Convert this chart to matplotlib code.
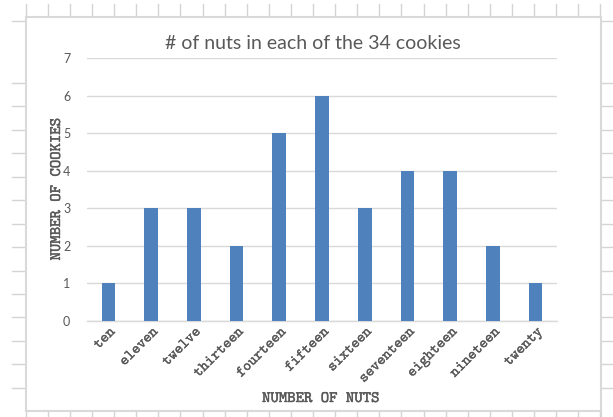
import matplotlib
matplotlib.use("Agg")
import matplotlib.pyplot as plt
import matplotlib.patheffects as pe
from matplotlib.lines import Line2D
from matplotlib.patches import Rectangle

# Data
categories = ["ten", "eleven", "twelve", "thirteen", "fourteen", "fifteen",
              "sixteen", "seventeen", "eighteen", "nineteen", "twenty"]
cookies = [1, 3, 3, 2, 5, 6, 3, 4, 4, 2, 1]
y_ticks = [0, 1, 2, 3, 4, 5, 6, 7]

title = "# of nuts in each of the 34 cookies"
x_title = "NUMBER OF NUTS"
y_title = "NUMBER OF COOKIES"

W, H = 613, 417
BAR = "#4f81bd"
TXT = "#595959"
GRID = "#d9d9d9"
SHEET = "#d4d4d4"
MONO = "cmtt10"
SANS = ["Lato", "DejaVu Sans"]
heavy = [pe.withStroke(linewidth=0.3, foreground=TXT)]
light = [pe.withStroke(linewidth=0.2, foreground=TXT)]

fig = plt.figure(figsize=(W / 100, H / 100), dpi=100)
fig.patch.set_facecolor("white")


def fx(x):
    return x / W


def fy(y):
    return 1 - y / H


def seg(x0, y0, x1, y1, lw=1.0, color=SHEET, z=0):
    fig.add_artist(Line2D([fx(x0), fx(x1)], [fy(y0), fy(y1)],
                          transform=fig.transFigure, color=color, lw=lw,
                          zorder=z))


# Worksheet grid peeking out around the chart object
col_x = [25.7 + 22.1 * k for k in range(27)]
for x in col_x:
    seg(x, 4, x, 17)
    seg(x, 411, x, 417)
row_y = [20.7, 82.7, 106, 129.5, 153, 176.5, 200, 223.5, 247, 270.5,
         294, 317, 340.5, 364, 387.5]
for y in row_y:
    seg(12, y, 26, y)
    seg(601, y, 613, y)
seg(601, 17, 601, 417, lw=1.5)

# Chart object frame
fig.add_artist(Rectangle((fx(26), fy(411)), fx(601) - fx(26), fy(17) - fy(411),
                         transform=fig.transFigure, facecolor="white",
                         edgecolor=GRID, lw=1.5, zorder=1))

# Plot area
left, right, top, bottom = 87, 557, 58.3, 321
ax = fig.add_axes([fx(left), fy(bottom), fx(right) - fx(left), fy(top) - fy(bottom)])
ax.set_zorder(2)
ax.set_facecolor("none")

xs = list(range(len(categories)))
ax.bar(xs, cookies, width=0.32, color=BAR, zorder=3)

ax.set_xlim(-0.5, len(categories) - 0.5)
ax.set_ylim(0, 7)
ax.set_yticks(y_ticks)
ax.set_yticklabels([str(v) for v in y_ticks], fontfamily=SANS, fontsize=9, color=TXT)
ax.yaxis.grid(True, color=GRID, lw=1.0, zorder=0)
ax.set_axisbelow(True)

ax.set_xticks(xs)
ax.set_xticklabels(categories, rotation=45, ha="right", rotation_mode="anchor",
                   fontfamily=MONO, fontsize=11, color=TXT)
for lbl in ax.get_xticklabels():
    lbl.set_path_effects(light)
ax.tick_params(axis="both", length=0)
ax.tick_params(axis="y", pad=12)
ax.tick_params(axis="x", pad=3)

for s in ["top", "right", "left"]:
    ax.spines[s].set_visible(False)
ax.spines["bottom"].set_color(GRID)
ax.spines["bottom"].set_linewidth(1.0)

fig.text(fx(313), fy(43.5), title, ha="center", va="center",
         fontfamily=SANS, fontsize=14, color=TXT)
fig.text(fx(321), fy(399), x_title, ha="center", va="center",
         fontfamily=MONO, fontsize=11.5, color=TXT, path_effects=heavy)
fig.text(fx(57), fy(189), y_title, ha="center", va="center", rotation=90,
         fontfamily=MONO, fontsize=11.5, color=TXT, path_effects=heavy)

fig.savefig("out.png", dpi=100, facecolor="white")
